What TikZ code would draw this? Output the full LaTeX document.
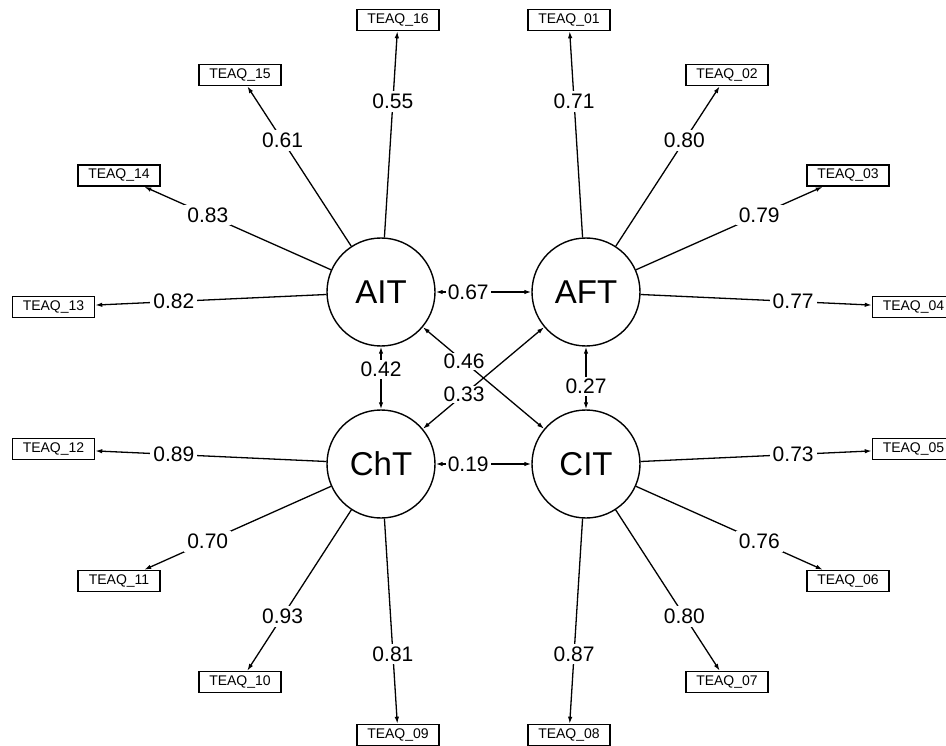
\documentclass[tikz,border=0pt]{standalone}
\usepackage{fontspec}
\setmainfont{Liberation Sans}
\usetikzlibrary{arrows.meta}
\begin{document}
\begin{tikzpicture}[x=1pt,y=-1pt,
  lat/.style={circle,draw,line width=1.4pt,minimum size=108pt,inner sep=0pt,font=\fontsize{33}{36}\selectfont},
  man/.style={rectangle,draw,line width=1.5pt,minimum width=82pt,minimum height=21pt,inner sep=0pt,font=\fontsize{14}{16}\selectfont},
  load/.style={line width=1.3pt,-{Latex[length=7pt,width=4.5pt]}},
  cov/.style={line width=1.3pt,{Latex[length=7pt,width=4.5pt]}-{Latex[length=7pt,width=4.5pt]}},
  lab/.style={fill=white,inner sep=3pt,font=\fontsize{21}{24}\selectfont}]
\useasboundingbox (0,0) rectangle (946,746);
\node[lat] (AIT) at (381,292) {AIT};
\node[lat] (AFT) at (586,292) {AFT};
\node[lat] (ChT) at (381,464) {ChT};
\node[lat] (CIT) at (586,464) {CIT};
\node[man] (T16) at (398,20) {TEAQ\_16};
\node[man] (T01) at (569,20) {TEAQ\_01};
\node[man] (T15) at (240,75) {TEAQ\_15};
\node[man] (T02) at (727,75) {TEAQ\_02};
\node[man] (T14) at (119,175.5) {TEAQ\_14};
\node[man] (T03) at (848,175.5) {TEAQ\_03};
\node[man] (T13) at (53.5,307) {TEAQ\_13};
\node[man] (T04) at (913.5,307) {TEAQ\_04};
\node[man] (T12) at (53.5,449) {TEAQ\_12};
\node[man] (T05) at (913.5,449) {TEAQ\_05};
\node[man] (T11) at (119,581) {TEAQ\_11};
\node[man] (T06) at (848,581) {TEAQ\_06};
\node[man] (T10) at (240,682) {TEAQ\_10};
\node[man] (T07) at (727,682) {TEAQ\_07};
\node[man] (T09) at (398,735) {TEAQ\_09};
\node[man] (T08) at (569,735) {TEAQ\_08};
% loadings
\draw[load] (AIT) -- node[lab,pos=0.66] {0.55} (T16);
\draw[load] (AIT) -- node[lab,pos=0.66] {0.61} (T15);
\draw[load] (AIT) -- node[lab,pos=0.66] {0.83} (T14);
\draw[load] (AIT) -- node[lab,pos=0.66] {0.82} (T13);
\draw[load] (AFT) -- node[lab,pos=0.66] {0.71} (T01);
\draw[load] (AFT) -- node[lab,pos=0.66] {0.80} (T02);
\draw[load] (AFT) -- node[lab,pos=0.66] {0.79} (T03);
\draw[load] (AFT) -- node[lab,pos=0.66] {0.77} (T04);
\draw[load] (ChT) -- node[lab,pos=0.66] {0.89} (T12);
\draw[load] (ChT) -- node[lab,pos=0.66] {0.70} (T11);
\draw[load] (ChT) -- node[lab,pos=0.66] {0.93} (T10);
\draw[load] (ChT) -- node[lab,pos=0.66] {0.81} (T09);
\draw[load] (CIT) -- node[lab,pos=0.66] {0.73} (T05);
\draw[load] (CIT) -- node[lab,pos=0.66] {0.76} (T06);
\draw[load] (CIT) -- node[lab,pos=0.66] {0.80} (T07);
\draw[load] (CIT) -- node[lab,pos=0.66] {0.87} (T08);
% covariances
\draw[cov] (AIT) -- node[lab,pos=0.34,inner sep=2pt] {0.67} (AFT);
\draw[cov] (AIT) -- node[lab,pos=0.36,inner sep=2pt] {0.42} (ChT);
\draw[cov] (CIT) -- node[lab,pos=0.36,inner sep=2pt] {0.27} (AFT);
\draw[cov] (ChT) -- node[lab,pos=0.34,inner sep=2pt] {0.19} (CIT);
\draw[cov] (AIT) -- node[lab,pos=0.34,inner sep=1pt] {0.46} (CIT);
\draw[cov] (ChT) -- node[lab,pos=0.34,inner sep=1pt] {0.33} (AFT);
\end{tikzpicture}
\end{document}
